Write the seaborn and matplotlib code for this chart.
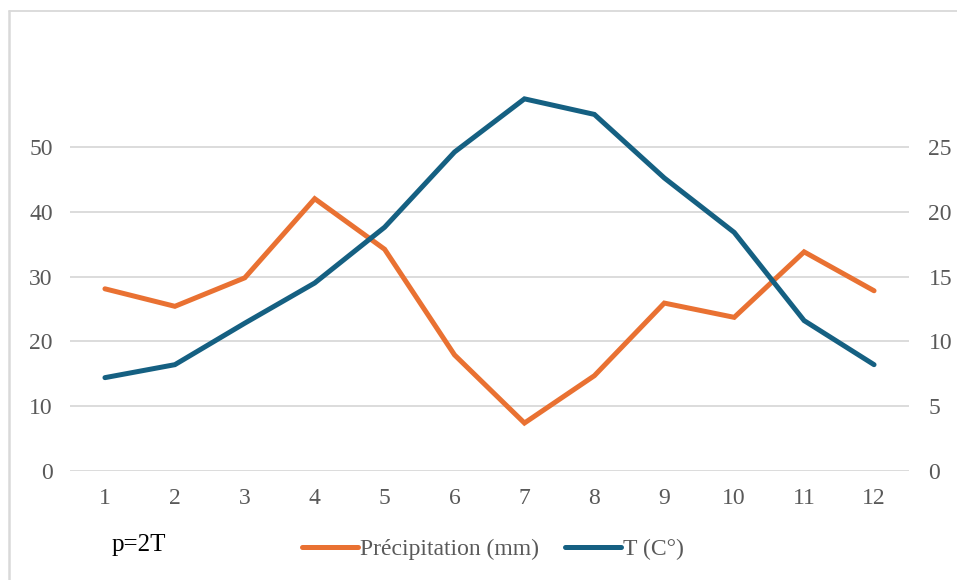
import matplotlib
matplotlib.use("Agg")
import matplotlib.pyplot as plt
import seaborn as sns
import pandas as pd
from matplotlib.lines import Line2D

months = [1, 2, 3, 4, 5, 6, 7, 8, 9, 10, 11, 12]
precip = [28.1, 25.4, 29.8, 42.0, 34.2, 17.9, 7.4, 14.7, 25.9, 23.7, 33.8, 27.8]
temp = [7.2, 8.2, 11.4, 14.5, 18.8, 24.6, 28.7, 27.5, 22.6, 18.4, 11.6, 8.2]
left_ticks = [0, 10, 20, 30, 40, 50]
right_ticks = [0, 5, 10, 15, 20, 25]

sns.set_theme(style="white")
plt.rcParams['font.family'] = ['Liberation Serif', 'DejaVu Serif']

ORANGE = "#E97132"
BLUE = "#156082"
GRAY = "#595959"
FS = 17

df = pd.DataFrame({"pos": list(range(len(months))), "P": precip, "T": temp})

fig = plt.figure(figsize=(9.57, 5.8), dpi=100)
ax = fig.add_axes([70/957, 109/580, 839/957, 389/580])
ax2 = ax.twinx()

sns.lineplot(data=df, x="pos", y="P", ax=ax, color=ORANGE, linewidth=3.6, zorder=3)
sns.lineplot(data=df, x="pos", y="T", ax=ax2, color=BLUE, linewidth=3.6, zorder=3)
for ln in ax.lines + ax2.lines:
    ln.set_solid_capstyle("round")
    ln.set_solid_joinstyle("miter")

ax.set_xlim(-0.5, len(months) - 0.5)
ax.set_ylim(0, 60)
ax2.set_ylim(0, 30)
ax.set_xticks(range(len(months)))
ax.set_xticklabels([str(m) for m in months])
ax.set_yticks(left_ticks)
ax2.set_yticks(right_ticks)
ax.set_xlabel("")
ax.set_ylabel("")
ax2.set_ylabel("")

ax.grid(axis="y", color="#D9D9D9", linewidth=1.3)
ax.set_axisbelow(True)
ax2.grid(False)
for a in (ax, ax2):
    for s in a.spines.values():
        s.set_visible(False)
    a.patch.set_visible(False)
ax.tick_params(axis="both", length=0, labelsize=FS, labelcolor=GRAY)
ax.tick_params(axis="y", pad=12.5)
ax.tick_params(axis="x", pad=12)
ax2.tick_params(axis="y", length=0, labelsize=FS, labelcolor=GRAY, pad=14)

handles = [Line2D([0], [0], color=ORANGE, lw=3.6, solid_capstyle="round"),
           Line2D([0], [0], color=BLUE, lw=3.6, solid_capstyle="round")]
leg = fig.legend(handles, ["Précipitation (mm)", "T (C°)"], loc="center",
                 bbox_to_anchor=(493/957, 1 - 549/580), ncol=2, frameon=False,
                 fontsize=FS, handlelength=2.35, handletextpad=0.1, columnspacing=1.1)
for t in leg.get_texts():
    t.set_color(GRAY)

fig.text(112/957, 1 - 545/580, "p=2T", fontsize=18, color="black", va="center", ha="left")

# chart border (left and top edges)
fig.add_artist(Line2D([9/957, 9/957], [0, 1 - 11/580], transform=fig.transFigure,
                      color="#D9D9D9", lw=1.8))
fig.add_artist(Line2D([9/957, 1], [1 - 11/580, 1 - 11/580], transform=fig.transFigure,
                      color="#D9D9D9", lw=1.3))

fig.savefig("out.png", dpi=100)
